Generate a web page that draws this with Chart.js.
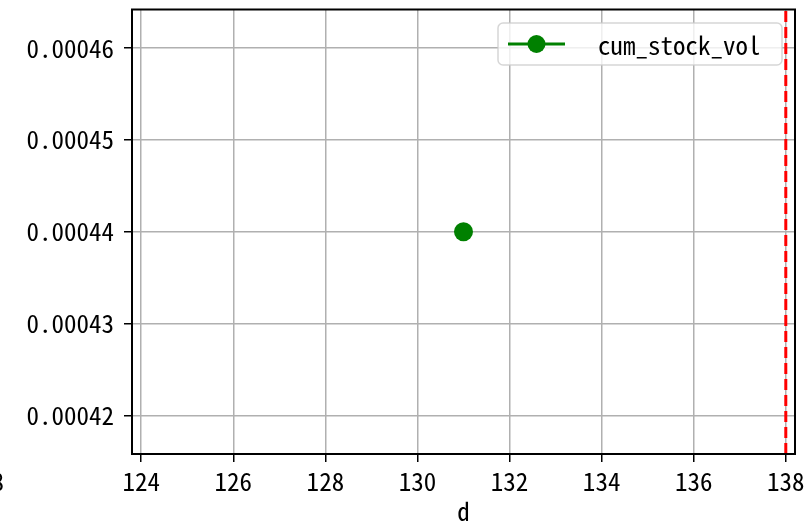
<!DOCTYPE html>
<html>
<head>
<meta charset="utf-8">
<script src="https://cdn.jsdelivr.net/npm/chart.js@4/dist/chart.umd.min.js"></script>
<style>
  html, body { margin: 0; padding: 0; background: #fff; }
  #wrap { width: 809px; height: 524px; }
</style>
</head>
<body>
<div id="wrap"><canvas id="chart" width="809" height="524"></canvas></div>
<script>
const seriesName = "cum_stock_vol";
const xValues = [131];
const yValues = [0.00044];
const markerX = 138;
const xTicks = [124, 126, 128, 130, 132, 134, 136, 138];
const yTicks = [0.00042, 0.00043, 0.00044, 0.00045, 0.00046];
const xRange = [123.8, 138.2];
const yRange = [0.0004158, 0.0004642];

const FONT = "'Noto Sans Mono CJK SC', 'DejaVu Sans Mono', monospace";
const fontSpec = { family: FONT, size: 25 };

// frame, legend and the clipped label at the far left
const decor = {
    id: 'decor',
    afterDraw(chart) {
        const { ctx, chartArea: a } = chart;
        ctx.save();
        ctx.strokeStyle = '#000';
        ctx.lineWidth = 2;
        ctx.strokeRect(a.left, a.top, a.right - a.left, a.bottom - a.top);

        // legend
        const bx = 498, by = 23, bw = 284, bh = 42, r = 5;
        ctx.beginPath();
        ctx.roundRect(bx, by, bw, bh, r);
        ctx.fillStyle = 'rgba(255,255,255,0.8)';
        ctx.fill();
        ctx.strokeStyle = 'rgba(204,204,204,0.8)';
        ctx.lineWidth = 1.5;
        ctx.stroke();
        const ly = by + bh / 2;
        ctx.strokeStyle = '#008000';
        ctx.lineWidth = 3;
        ctx.beginPath();
        ctx.moveTo(508, ly);
        ctx.lineTo(565, ly);
        ctx.stroke();
        ctx.fillStyle = '#008000';
        ctx.beginPath();
        ctx.arc(536.5, ly, 9, 0, Math.PI * 2);
        ctx.fill();
        ctx.fillStyle = '#000';
        ctx.font = `25px ${FONT}`;
        ctx.textAlign = 'left';
        ctx.textBaseline = 'middle';
        ctx.fillText(chart.data.datasets[0].label, 598, ly + 1);

        ctx.textAlign = 'right';
        ctx.fillText('8', 4, 481);
        ctx.restore();
    }
};

new Chart(document.getElementById('chart'), {
    type: 'line',
    data: {
        datasets: [
            {
                label: seriesName,
                data: xValues.map((x, i) => ({ x, y: yValues[i] })),
                showLine: false,
                pointRadius: 9.5,
                pointHoverRadius: 9.5,
                pointBackgroundColor: '#008000',
                pointBorderWidth: 0,
                borderColor: '#008000'
            },
            {
                label: 'marker',
                data: [{ x: markerX, y: yRange[0] }, { x: markerX, y: yRange[1] }],
                borderColor: '#ff0000',
                borderWidth: 3,
                borderDash: [11, 5],
                pointRadius: 0
            }
        ]
    },
    options: {
        responsive: false,
        animation: false,
        layout: { padding: { top: 9, right: 14, left: 0, bottom: 0 } },
        plugins: { legend: { display: false }, tooltip: { enabled: false } },
        scales: {
            x: {
                type: 'linear',
                min: xRange[0], max: xRange[1],
                afterBuildTicks: s => { s.ticks = xTicks.map(v => ({ value: v })); },
                afterFit: s => { s.height = 70; s.paddingLeft = 0; s.paddingRight = 0; },
                ticks: { font: fontSpec, color: '#000', padding: 4, maxRotation: 0, callback: v => String(v) },
                grid: { color: '#b0b0b0', lineWidth: 1.5, tickColor: '#000', tickLength: 8, tickWidth: 1.5 },
                border: { display: false },
                title: { display: true, text: 'd', font: { ...fontSpec, lineHeight: 1 }, color: '#000', padding: { top: 0, bottom: 0 } }
            },
            y: {
                type: 'linear',
                min: yRange[0], max: yRange[1],
                afterBuildTicks: s => { s.ticks = yTicks.map(v => ({ value: v })); },
                afterFit: s => { s.width = 132; s.paddingTop = 0; s.paddingBottom = 0; },
                ticks: { font: fontSpec, color: '#000', padding: 10, callback: v => v.toFixed(5) },
                grid: { color: '#b0b0b0', lineWidth: 1.5, tickColor: '#000', tickLength: 8, tickWidth: 1.5 },
                border: { display: false }
            }
        }
    },
    plugins: [decor]
});
</script>
</body>
</html>
